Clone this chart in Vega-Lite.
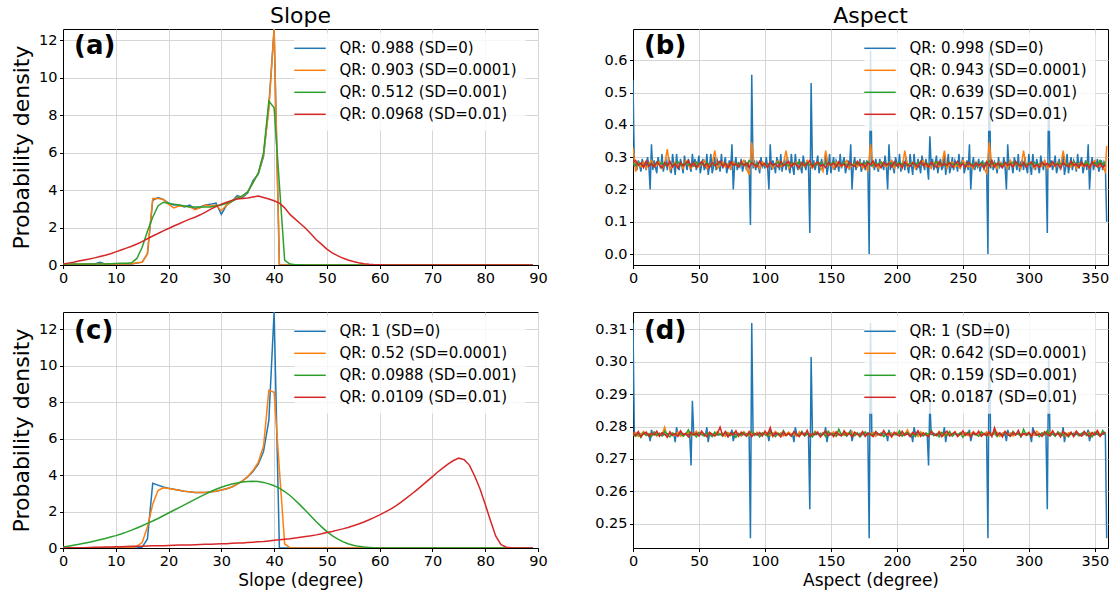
{
"$schema": "https://vega.github.io/schema/vega-lite/v6.json",
"padding": {"left": 10, "top": 4, "right": 2, "bottom": 2},
"background": "white",
"columns": 2,
"spacing": {"row": 47, "column": 95},
"bounds": "flush",
"resolve": {"scale": {"color": "independent", "x": "independent", "y": "independent"}, "legend": {"color": "independent"}},
"datasets": {
"slope": [
{"x":0,"a1":0.02,"a2":0.02,"a3":0.05,"a4":0.05,"c1":0,"c2":0,"c3":0.05,"c4":0},
{"x":1,"a1":0.02,"a2":0.03,"a3":0.05,"a4":0.1,"c1":0,"c2":0,"c3":0.1,"c4":0.01},
{"x":2,"a1":0.03,"a2":0.04,"a3":0.05,"a4":0.15,"c1":0,"c2":0,"c3":0.15,"c4":0.01},
{"x":3,"a1":0.02,"a2":0.04,"a3":0.05,"a4":0.21,"c1":0,"c2":0,"c3":0.2,"c4":0.02},
{"x":4,"a1":0.03,"a2":0.05,"a3":0.05,"a4":0.27,"c1":0,"c2":0,"c3":0.26,"c4":0.02},
{"x":5,"a1":0.05,"a2":0.04,"a3":0.05,"a4":0.32,"c1":0,"c2":0,"c3":0.32,"c4":0.03},
{"x":6,"a1":0.05,"a2":0.05,"a3":0.05,"a4":0.38,"c1":0,"c2":0,"c3":0.38,"c4":0.04},
{"x":7,"a1":0.15,"a2":0.08,"a3":0.06,"a4":0.45,"c1":0,"c2":0,"c3":0.45,"c4":0.04},
{"x":8,"a1":0.05,"a2":0.06,"a3":0.06,"a4":0.52,"c1":0,"c2":0,"c3":0.52,"c4":0.05},
{"x":9,"a1":0.05,"a2":0.05,"a3":0.07,"a4":0.6,"c1":0,"c2":0,"c3":0.6,"c4":0.06},
{"x":10,"a1":0.05,"a2":0.06,"a3":0.08,"a4":0.7,"c1":0,"c2":0,"c3":0.68,"c4":0.07},
{"x":11,"a1":0.06,"a2":0.06,"a3":0.09,"a4":0.8,"c1":0,"c2":0,"c3":0.77,"c4":0.07},
{"x":12,"a1":0.06,"a2":0.06,"a3":0.1,"a4":0.9,"c1":0,"c2":0,"c3":0.87,"c4":0.08},
{"x":13,"a1":0.06,"a2":0.07,"a3":0.12,"a4":1.0,"c1":0,"c2":0.03,"c3":0.98,"c4":0.09},
{"x":14,"a1":0.1,"a2":0.12,"a3":0.35,"a4":1.12,"c1":0,"c2":0.1,"c3":1.1,"c4":0.09},
{"x":15,"a1":0.15,"a2":0.15,"a3":0.95,"a4":1.25,"c1":0.05,"c2":0.3,"c3":1.22,"c4":0.1},
{"x":16,"a1":0.6,"a2":0.6,"a3":1.8,"a4":1.4,"c1":0.5,"c2":1.15,"c3":1.35,"c4":0.11},
{"x":17,"a1":3.45,"a2":3.55,"a3":2.55,"a4":1.55,"c1":3.55,"c2":2.4,"c3":1.48,"c4":0.12},
{"x":18,"a1":3.6,"a2":3.55,"a3":3.15,"a4":1.68,"c1":3.45,"c2":3.15,"c3":1.62,"c4":0.13},
{"x":19,"a1":3.5,"a2":3.5,"a3":3.35,"a4":1.82,"c1":3.35,"c2":3.3,"c3":1.77,"c4":0.13},
{"x":20,"a1":3.3,"a2":3.25,"a3":3.3,"a4":1.95,"c1":3.28,"c2":3.27,"c3":1.92,"c4":0.14},
{"x":21,"a1":3.2,"a2":3.05,"a3":3.25,"a4":2.08,"c1":3.22,"c2":3.22,"c3":2.07,"c4":0.15},
{"x":22,"a1":3.2,"a2":3.15,"a3":3.2,"a4":2.2,"c1":3.17,"c2":3.17,"c3":2.22,"c4":0.16},
{"x":23,"a1":3.1,"a2":3.15,"a3":3.15,"a4":2.33,"c1":3.12,"c2":3.12,"c3":2.37,"c4":0.17},
{"x":24,"a1":3.2,"a2":3.1,"a3":3.1,"a4":2.45,"c1":3.08,"c2":3.08,"c3":2.52,"c4":0.17},
{"x":25,"a1":3.0,"a2":2.95,"a3":3.1,"a4":2.55,"c1":3.05,"c2":3.05,"c3":2.67,"c4":0.18},
{"x":26,"a1":3.1,"a2":3.05,"a3":3.1,"a4":2.68,"c1":3.05,"c2":3.04,"c3":2.82,"c4":0.19},
{"x":27,"a1":3.2,"a2":3.2,"a3":3.1,"a4":2.82,"c1":3.05,"c2":3.05,"c3":2.96,"c4":0.2},
{"x":28,"a1":3.25,"a2":3.15,"a3":3.1,"a4":2.98,"c1":3.08,"c2":3.08,"c3":3.1,"c4":0.21},
{"x":29,"a1":3.3,"a2":3.2,"a3":3.15,"a4":3.12,"c1":3.12,"c2":3.12,"c3":3.22,"c4":0.22},
{"x":30,"a1":2.7,"a2":2.9,"a3":3.2,"a4":3.25,"c1":3.18,"c2":3.18,"c3":3.33,"c4":0.23},
{"x":31,"a1":3.2,"a2":3.2,"a3":3.3,"a4":3.35,"c1":3.25,"c2":3.25,"c3":3.43,"c4":0.24},
{"x":32,"a1":3.4,"a2":3.4,"a3":3.4,"a4":3.45,"c1":3.35,"c2":3.35,"c3":3.51,"c4":0.26},
{"x":33,"a1":3.7,"a2":3.6,"a3":3.55,"a4":3.52,"c1":3.5,"c2":3.5,"c3":3.57,"c4":0.27},
{"x":34,"a1":3.6,"a2":3.65,"a3":3.7,"a4":3.55,"c1":3.68,"c2":3.68,"c3":3.62,"c4":0.28},
{"x":35,"a1":3.85,"a2":3.9,"a3":3.9,"a4":3.58,"c1":3.9,"c2":3.92,"c3":3.65,"c4":0.3},
{"x":36,"a1":4.5,"a2":4.4,"a3":4.4,"a4":3.63,"c1":4.2,"c2":4.25,"c3":3.66,"c4":0.32},
{"x":37,"a1":4.85,"a2":4.9,"a3":4.9,"a4":3.68,"c1":4.6,"c2":4.7,"c3":3.65,"c4":0.34},
{"x":38,"a1":5.8,"a2":5.9,"a3":6.0,"a4":3.6,"c1":5.3,"c2":5.6,"c3":3.6,"c4":0.36},
{"x":39,"a1":8.5,"a2":8.3,"a3":8.75,"a4":3.52,"c1":7.0,"c2":8.65,"c3":3.52,"c4":0.39},
{"x":40,"a1":13.5,"a2":13.0,"a3":8.4,"a4":3.43,"c1":13.5,"c2":8.55,"c3":3.42,"c4":0.42},
{"x":41,"a1":0,"a2":0,"a3":4.3,"a4":3.3,"c1":0,"c2":4.3,"c3":3.28,"c4":0.45},
{"x":42,"a1":0,"a2":0,"a3":0.25,"a4":3.05,"c1":0,"c2":0.22,"c3":3.1,"c4":0.48},
{"x":43,"a1":0,"a2":0,"a3":0.05,"a4":2.7,"c1":0,"c2":0.02,"c3":2.88,"c4":0.51},
{"x":44,"a1":0,"a2":0,"a3":0.02,"a4":2.45,"c1":0,"c2":0,"c3":2.62,"c4":0.55},
{"x":45,"a1":0,"a2":0,"a3":0.01,"a4":2.2,"c1":0,"c2":0,"c3":2.34,"c4":0.59},
{"x":46,"a1":0,"a2":0,"a3":0,"a4":1.95,"c1":0,"c2":0,"c3":2.04,"c4":0.63},
{"x":47,"a1":0,"a2":0,"a3":0,"a4":1.65,"c1":0,"c2":0,"c3":1.74,"c4":0.67},
{"x":48,"a1":0,"a2":0,"a3":0,"a4":1.35,"c1":0,"c2":0,"c3":1.44,"c4":0.72},
{"x":49,"a1":0,"a2":0,"a3":0,"a4":1.1,"c1":0,"c2":0,"c3":1.16,"c4":0.78},
{"x":50,"a1":0,"a2":0,"a3":0,"a4":0.85,"c1":0,"c2":0,"c3":0.9,"c4":0.85},
{"x":51,"a1":0,"a2":0,"a3":0,"a4":0.65,"c1":0,"c2":0,"c3":0.68,"c4":0.91},
{"x":52,"a1":0,"a2":0,"a3":0,"a4":0.5,"c1":0,"c2":0,"c3":0.5,"c4":0.98},
{"x":53,"a1":0,"a2":0,"a3":0,"a4":0.37,"c1":0,"c2":0,"c3":0.35,"c4":1.05},
{"x":54,"a1":0,"a2":0,"a3":0,"a4":0.27,"c1":0,"c2":0,"c3":0.23,"c4":1.13},
{"x":55,"a1":0,"a2":0,"a3":0,"a4":0.19,"c1":0,"c2":0,"c3":0.15,"c4":1.22},
{"x":56,"a1":0,"a2":0,"a3":0,"a4":0.12,"c1":0,"c2":0,"c3":0.09,"c4":1.32},
{"x":57,"a1":0,"a2":0,"a3":0,"a4":0.07,"c1":0,"c2":0,"c3":0.05,"c4":1.43},
{"x":58,"a1":0,"a2":0,"a3":0,"a4":0.04,"c1":0,"c2":0,"c3":0.03,"c4":1.55},
{"x":59,"a1":0,"a2":0,"a3":0,"a4":0.02,"c1":0,"c2":0,"c3":0.01,"c4":1.68},
{"x":60,"a1":0,"a2":0,"a3":0,"a4":0.01,"c1":0,"c2":0,"c3":0,"c4":1.82},
{"x":61,"a1":0,"a2":0,"a3":0,"a4":0,"c1":0,"c2":0,"c3":0,"c4":1.97},
{"x":62,"a1":0,"a2":0,"a3":0,"a4":0,"c1":0,"c2":0,"c3":0,"c4":2.12},
{"x":63,"a1":0,"a2":0,"a3":0,"a4":0,"c1":0,"c2":0,"c3":0,"c4":2.3},
{"x":64,"a1":0,"a2":0,"a3":0,"a4":0,"c1":0,"c2":0,"c3":0,"c4":2.5},
{"x":65,"a1":0,"a2":0,"a3":0,"a4":0,"c1":0,"c2":0,"c3":0,"c4":2.72},
{"x":66,"a1":0,"a2":0,"a3":0,"a4":0,"c1":0,"c2":0,"c3":0,"c4":2.95},
{"x":67,"a1":0,"a2":0,"a3":0,"a4":0,"c1":0,"c2":0,"c3":0,"c4":3.18},
{"x":68,"a1":0,"a2":0,"a3":0,"a4":0,"c1":0,"c2":0,"c3":0,"c4":3.42},
{"x":69,"a1":0,"a2":0,"a3":0,"a4":0,"c1":0,"c2":0,"c3":0,"c4":3.67},
{"x":70,"a1":0,"a2":0,"a3":0,"a4":0,"c1":0,"c2":0,"c3":0,"c4":3.92},
{"x":71,"a1":0,"a2":0,"a3":0,"a4":0,"c1":0,"c2":0,"c3":0,"c4":4.17},
{"x":72,"a1":0,"a2":0,"a3":0,"a4":0,"c1":0,"c2":0,"c3":0,"c4":4.4},
{"x":73,"a1":0,"a2":0,"a3":0,"a4":0,"c1":0,"c2":0,"c3":0,"c4":4.62},
{"x":74,"a1":0,"a2":0,"a3":0,"a4":0,"c1":0,"c2":0,"c3":0,"c4":4.8},
{"x":75,"a1":0,"a2":0,"a3":0,"a4":0,"c1":0,"c2":0,"c3":0,"c4":4.93},
{"x":76,"a1":0,"a2":0,"a3":0,"a4":0,"c1":0,"c2":0,"c3":0,"c4":4.85},
{"x":77,"a1":0,"a2":0,"a3":0,"a4":0,"c1":0,"c2":0,"c3":0,"c4":4.55},
{"x":78,"a1":0,"a2":0,"a3":0,"a4":0,"c1":0,"c2":0,"c3":0,"c4":3.95},
{"x":79,"a1":0,"a2":0,"a3":0,"a4":0,"c1":0,"c2":0,"c3":0,"c4":3.25},
{"x":80,"a1":0,"a2":0,"a3":0,"a4":0,"c1":0,"c2":0,"c3":0,"c4":2.4},
{"x":81,"a1":0,"a2":0,"a3":0,"a4":0,"c1":0,"c2":0,"c3":0,"c4":1.5},
{"x":82,"a1":0,"a2":0,"a3":0,"a4":0,"c1":0,"c2":0,"c3":0,"c4":0.65},
{"x":83,"a1":0,"a2":0,"a3":0,"a4":0,"c1":0,"c2":0,"c3":0,"c4":0.18},
{"x":84,"a1":0,"a2":0,"a3":0,"a4":0,"c1":0,"c2":0,"c3":0,"c4":0.04},
{"x":85,"a1":0,"a2":0,"a3":0,"a4":0,"c1":0,"c2":0,"c3":0,"c4":0.01},
{"x":86,"a1":0,"a2":0,"a3":0,"a4":0,"c1":0,"c2":0,"c3":0,"c4":0},
{"x":87,"a1":0,"a2":0,"a3":0,"a4":0,"c1":0,"c2":0,"c3":0,"c4":0},
{"x":88,"a1":0,"a2":0,"a3":0,"a4":0,"c1":0,"c2":0,"c3":0,"c4":0},
{"x":89,"a1":0,"a2":0,"a3":0,"a4":0,"c1":0,"c2":0,"c3":0,"c4":0}
],
"asp": [
{"x":0,"bb":0.54,"db":0.312,"bo":0.33,"bg":0.28,"br":0.285,"do":0.2778,"dg":0.2775,"dr":0.278},
{"x":1,"bb":0.27,"db":0.2775},
{"x":2,"bb":0.285,"db":0.2778,"bo":0.255,"bg":0.275,"br":0.29,"do":0.2782,"dg":0.277,"dr":0.2772},
{"x":3,"bb":0.26,"db":0.2776},
{"x":4,"bb":0.29,"db":0.2779,"bo":0.28,"bg":0.285,"br":0.275,"do":0.277,"dg":0.2779,"dr":0.2785},
{"x":5,"bb":0.275,"db":0.2774},
{"x":6,"bb":0.255,"db":0.2777,"bo":0.27,"bg":0.278,"br":0.282,"do":0.2776,"dg":0.2766,"dr":0.2769},
{"x":7,"bb":0.295,"db":0.2775},
{"x":8,"bb":0.27,"db":0.2778,"bo":0.285,"bg":0.272,"br":0.268,"do":0.2785,"dg":0.2781,"dr":0.2778},
{"x":9,"bb":0.28,"db":0.2776},
{"x":10,"bb":0.26,"db":0.2779,"bo":0.265,"bg":0.283,"br":0.288,"do":0.2772,"dg":0.2773,"dr":0.2783},
{"x":11,"bb":0.30,"db":0.2774},
{"x":12,"bb":0.275,"db":0.2777,"bo":0.28,"bg":0.276,"br":0.272,"do":0.2779,"dg":0.2777,"dr":0.2771},
{"x":13,"bb":0.20,"db":0.2755},
{"x":14,"bb":0.34,"db":0.279,"bo":0.29,"bg":0.28,"br":0.28,"do":0.2774,"dg":0.2769,"dr":0.2779},
{"x":15,"bb":0.26,"db":0.2776},
{"x":16,"bb":0.29,"db":0.2779,"bo":0.27,"bg":0.274,"br":0.27,"do":0.2783,"dg":0.2783,"dr":0.2774},
{"x":17,"bb":0.27,"db":0.2774},
{"x":18,"bb":0.25,"db":0.2777,"bo":0.275,"bg":0.282,"br":0.285,"do":0.2771,"dg":0.2774,"dr":0.2786},
{"x":19,"bb":0.30,"db":0.2775},
{"x":20,"bb":0.28,"db":0.2778,"bo":0.285,"bg":0.277,"br":0.276,"do":0.278,"dg":0.2778,"dr":0.277},
{"x":21,"bb":0.265,"db":0.2776},
{"x":22,"bb":0.31,"db":0.2779,"bo":0.265,"bg":0.285,"br":0.268,"do":0.2775,"dg":0.2771,"dr":0.2781},
{"x":23,"bb":0.255,"db":0.2774},
{"x":24,"bb":0.28,"db":0.2777,"bo":0.28,"bg":0.273,"br":0.283,"do":0.2798,"dg":0.2786,"dr":0.2776},
{"x":25,"bb":0.29,"db":0.2775},
{"x":26,"bb":0.26,"db":0.2778,"bo":0.325,"bg":0.279,"br":0.272,"do":0.2768,"dg":0.2775,"dr":0.2767},
{"x":27,"bb":0.30,"db":0.2776},
{"x":28,"bb":0.27,"db":0.2779,"bo":0.26,"bg":0.282,"br":0.287,"do":0.2781,"dg":0.2768,"dr":0.2784},
{"x":29,"bb":0.25,"db":0.2774},
{"x":30,"bb":0.31,"db":0.2777,"bo":0.275,"bg":0.275,"br":0.27,"do":0.2776,"dg":0.278,"dr":0.2773},
{"x":31,"bb":0.275,"db":0.2775},
{"x":32,"bb":0.245,"db":0.2752,"bo":0.285,"bg":0.28,"br":0.279,"do":0.2773,"dg":0.2776,"dr":0.2779},
{"x":33,"bb":0.31,"db":0.2798},
{"x":34,"bb":0.27,"db":0.2779,"bo":0.27,"bg":0.286,"br":0.266,"do":0.2784,"dg":0.2772,"dr":0.277},
{"x":35,"bb":0.26,"db":0.2774},
{"x":36,"bb":0.295,"db":0.2777,"bo":0.28,"bg":0.274,"br":0.284,"do":0.277,"dg":0.2784,"dr":0.2787},
{"x":37,"bb":0.275,"db":0.2775},
{"x":38,"bb":0.25,"db":0.2778,"bo":0.265,"bg":0.278,"br":0.273,"do":0.2779,"dg":0.277,"dr":0.2775},
{"x":39,"bb":0.305,"db":0.2776},
{"x":40,"bb":0.28,"db":0.2779,"bo":0.29,"bg":0.283,"br":0.28,"do":0.2775,"dg":0.2777,"dr":0.2778},
{"x":41,"bb":0.26,"db":0.2774},
{"x":42,"bb":0.295,"db":0.2777,"bo":0.275,"bg":0.276,"br":0.29,"do":0.2782,"dg":0.279,"dr":0.2768},
{"x":43,"bb":0.27,"db":0.2775},
{"x":44,"bb":0.255,"db":0.268,"bo":0.265,"bg":0.279,"br":0.271,"do":0.2771,"dg":0.2773,"dr":0.2783},
{"x":45,"bb":0.31,"db":0.288},
{"x":46,"bb":0.27,"db":0.2779,"bo":0.28,"bg":0.272,"br":0.282,"do":0.2778,"dg":0.2779,"dr":0.2774},
{"x":47,"bb":0.295,"db":0.2774},
{"x":48,"bb":0.26,"db":0.2777,"bo":0.285,"bg":0.284,"br":0.268,"do":0.2786,"dg":0.2768,"dr":0.278},
{"x":49,"bb":0.28,"db":0.2775},
{"x":50,"bb":0.305,"db":0.2778,"bo":0.27,"bg":0.277,"br":0.278,"do":0.2773,"dg":0.2782,"dr":0.2771},
{"x":51,"bb":0.25,"db":0.2776},
{"x":52,"bb":0.275,"db":0.2779,"bo":0.28,"bg":0.28,"br":0.286,"do":0.278,"dg":0.2775,"dr":0.2786},
{"x":53,"bb":0.295,"db":0.2774},
{"x":54,"bb":0.26,"db":0.2777,"bo":0.29,"bg":0.275,"br":0.272,"do":0.2776,"dg":0.2771,"dr":0.2776},
{"x":55,"bb":0.27,"db":0.2775},
{"x":56,"bb":0.31,"db":0.2798,"bo":0.265,"bg":0.283,"br":0.28,"do":0.2769,"dg":0.278,"dr":0.2769},
{"x":57,"bb":0.245,"db":0.2752},
{"x":58,"bb":0.275,"db":0.2779,"bo":0.275,"bg":0.278,"br":0.267,"do":0.2783,"dg":0.2776,"dr":0.2782},
{"x":59,"bb":0.31,"db":0.2774},
{"x":60,"bb":0.25,"db":0.2777,"bo":0.28,"bg":0.274,"br":0.284,"do":0.2777,"dg":0.2769,"dr":0.2775},
{"x":61,"bb":0.27,"db":0.2775},
{"x":62,"bb":0.30,"db":0.2778,"bo":0.32,"bg":0.281,"br":0.274,"do":0.2772,"dg":0.2783,"dr":0.2771},
{"x":63,"bb":0.26,"db":0.2776},
{"x":64,"bb":0.29,"db":0.2779,"bo":0.265,"bg":0.277,"br":0.279,"do":0.2785,"dg":0.2774,"dr":0.2779},
{"x":65,"bb":0.28,"db":0.2774},
{"x":66,"bb":0.255,"db":0.2777,"bo":0.275,"bg":0.285,"br":0.288,"do":0.2775,"dg":0.2778,"dr":0.2798},
{"x":67,"bb":0.31,"db":0.2775},
{"x":68,"bb":0.265,"db":0.2778,"bo":0.285,"bg":0.276,"br":0.27,"do":0.2779,"dg":0.277,"dr":0.2772},
{"x":69,"bb":0.28,"db":0.2776},
{"x":70,"bb":0.30,"db":0.2779,"bo":0.27,"bg":0.279,"br":0.281,"do":0.277,"dg":0.2785,"dr":0.2784},
{"x":71,"bb":0.25,"db":0.2774},
{"x":72,"bb":0.27,"db":0.2777,"bo":0.28,"bg":0.273,"br":0.267,"do":0.2782,"dg":0.2776,"dr":0.2768},
{"x":73,"bb":0.29,"db":0.2775},
{"x":74,"bb":0.26,"db":0.2778,"bo":0.265,"bg":0.282,"br":0.285,"do":0.2776,"dg":0.2772,"dr":0.278},
{"x":75,"bb":0.34,"db":0.279},
{"x":76,"bb":0.20,"db":0.2755,"bo":0.285,"bg":0.278,"br":0.275,"do":0.2774,"dg":0.2781,"dr":0.2775},
{"x":77,"bb":0.275,"db":0.2774},
{"x":78,"bb":0.30,"db":0.2777,"bo":0.275,"bg":0.275,"br":0.28,"do":0.2781,"dg":0.2767,"dr":0.2787},
{"x":79,"bb":0.26,"db":0.2775},
{"x":80,"bb":0.28,"db":0.2778,"bo":0.27,"bg":0.283,"br":0.27,"do":0.2778,"dg":0.2779,"dr":0.277},
{"x":81,"bb":0.27,"db":0.2776},
{"x":82,"bb":0.295,"db":0.2779,"bo":0.28,"bg":0.277,"br":0.286,"do":0.2771,"dg":0.2774,"dr":0.2783},
{"x":83,"bb":0.255,"db":0.2774},
{"x":84,"bb":0.275,"db":0.2777,"bo":0.29,"bg":0.28,"br":0.273,"do":0.2784,"dg":0.2782,"dr":0.2776},
{"x":85,"bb":0.29,"db":0.2775},
{"x":86,"bb":0.26,"db":0.2778,"bo":0.265,"bg":0.274,"br":0.281,"do":0.2776,"dg":0.277,"dr":0.2772},
{"x":87,"bb":0.285,"db":0.2776},
{"x":88,"bb":0.27,"db":0.2779,"bo":0.245,"bg":0.29,"br":0.268,"do":0.2773,"dg":0.2777,"dr":0.2785},
{"x":89,"bb":0.09,"db":0.2455},
{"x":90,"bb":0.555,"db":0.312,"bo":0.345,"bg":0.282,"br":0.283,"do":0.278,"dg":0.2786,"dr":0.2769},
{"x":91,"bb":0.265,"db":0.2775},
{"x":92,"bb":0.29,"db":0.2778,"bo":0.27,"bg":0.276,"br":0.276,"do":0.2775,"dg":0.2773,"dr":0.2779},
{"x":93,"bb":0.26,"db":0.2776},
{"x":94,"bb":0.285,"db":0.2779,"bo":0.28,"bg":0.279,"br":0.27,"do":0.2783,"dg":0.2779,"dr":0.2774},
{"x":95,"bb":0.275,"db":0.2774},
{"x":96,"bb":0.25,"db":0.2777,"bo":0.265,"bg":0.284,"br":0.288,"do":0.277,"dg":0.2768,"dr":0.2782},
{"x":97,"bb":0.30,"db":0.2775},
{"x":98,"bb":0.27,"db":0.2778,"bo":0.285,"bg":0.275,"br":0.274,"do":0.2779,"dg":0.2781,"dr":0.2771},
{"x":99,"bb":0.28,"db":0.2776},
{"x":100,"bb":0.265,"db":0.2779,"bo":0.275,"bg":0.28,"br":0.281,"do":0.2776,"dg":0.2775,"dr":0.2786},
{"x":101,"bb":0.30,"db":0.2774},
{"x":102,"bb":0.27,"db":0.2777,"bo":0.27,"bg":0.277,"br":0.267,"do":0.2782,"dg":0.2771,"dr":0.2775},
{"x":103,"bb":0.20,"db":0.2755},
{"x":104,"bb":0.34,"db":0.279,"bo":0.285,"bg":0.283,"br":0.285,"do":0.2772,"dg":0.2784,"dr":0.2797},
{"x":105,"bb":0.26,"db":0.2776},
{"x":106,"bb":0.29,"db":0.2779,"bo":0.265,"bg":0.274,"br":0.275,"do":0.2778,"dg":0.2776,"dr":0.277},
{"x":107,"bb":0.275,"db":0.2774},
{"x":108,"bb":0.25,"db":0.2777,"bo":0.28,"bg":0.279,"br":0.279,"do":0.2785,"dg":0.2769,"dr":0.2781},
{"x":109,"bb":0.30,"db":0.2775},
{"x":110,"bb":0.28,"db":0.2778,"bo":0.29,"bg":0.285,"br":0.269,"do":0.2774,"dg":0.278,"dr":0.2777},
{"x":111,"bb":0.26,"db":0.2776},
{"x":112,"bb":0.31,"db":0.2779,"bo":0.27,"bg":0.276,"br":0.286,"do":0.278,"dg":0.2774,"dr":0.2768},
{"x":113,"bb":0.255,"db":0.2774},
{"x":114,"bb":0.285,"db":0.2777,"bo":0.28,"bg":0.281,"br":0.273,"do":0.2771,"dg":0.2788,"dr":0.2784},
{"x":115,"bb":0.29,"db":0.2775},
{"x":116,"bb":0.26,"db":0.2778,"bo":0.32,"bg":0.278,"br":0.28,"do":0.2777,"dg":0.2772,"dr":0.2773},
{"x":117,"bb":0.30,"db":0.2776},
{"x":118,"bb":0.27,"db":0.2779,"bo":0.265,"bg":0.273,"br":0.287,"do":0.2783,"dg":0.2778,"dr":0.2779},
{"x":119,"bb":0.25,"db":0.2774},
{"x":120,"bb":0.31,"db":0.2777,"bo":0.28,"bg":0.282,"br":0.271,"do":0.2775,"dg":0.277,"dr":0.2771},
{"x":121,"bb":0.27,"db":0.2775},
{"x":122,"bb":0.245,"db":0.2752,"bo":0.275,"bg":0.277,"br":0.282,"do":0.2779,"dg":0.2782,"dr":0.2785},
{"x":123,"bb":0.31,"db":0.2798},
{"x":124,"bb":0.275,"db":0.2779,"bo":0.285,"bg":0.28,"br":0.276,"do":0.277,"dg":0.2776,"dr":0.2776},
{"x":125,"bb":0.26,"db":0.2774},
{"x":126,"bb":0.295,"db":0.2777,"bo":0.265,"bg":0.286,"br":0.268,"do":0.2784,"dg":0.2773,"dr":0.2769},
{"x":127,"bb":0.27,"db":0.2775},
{"x":128,"bb":0.25,"db":0.2778,"bo":0.28,"bg":0.275,"br":0.284,"do":0.2776,"dg":0.2785,"dr":0.2782},
{"x":129,"bb":0.305,"db":0.2776},
{"x":130,"bb":0.28,"db":0.2779,"bo":0.27,"bg":0.279,"br":0.274,"do":0.2773,"dg":0.2771,"dr":0.2774},
{"x":131,"bb":0.26,"db":0.2774},
{"x":132,"bb":0.29,"db":0.2777,"bo":0.29,"bg":0.283,"br":0.28,"do":0.2781,"dg":0.2779,"dr":0.2788},
{"x":133,"bb":0.27,"db":0.2775},
{"x":134,"bb":0.065,"db":0.2545,"bo":0.275,"bg":0.276,"br":0.29,"do":0.2777,"dg":0.2775,"dr":0.277},
{"x":135,"bb":0.53,"db":0.3015},
{"x":136,"bb":0.27,"db":0.2779,"bo":0.265,"bg":0.28,"br":0.27,"do":0.2772,"dg":0.2768,"dr":0.2779},
{"x":137,"bb":0.29,"db":0.2774},
{"x":138,"bb":0.26,"db":0.2777,"bo":0.28,"bg":0.274,"br":0.279,"do":0.2786,"dg":0.2783,"dr":0.2775},
{"x":139,"bb":0.28,"db":0.2775},
{"x":140,"bb":0.305,"db":0.2778,"bo":0.285,"bg":0.278,"br":0.285,"do":0.2778,"dg":0.2777,"dr":0.2783},
{"x":141,"bb":0.25,"db":0.2776},
{"x":142,"bb":0.27,"db":0.2779,"bo":0.27,"bg":0.284,"br":0.272,"do":0.2774,"dg":0.2772,"dr":0.2768},
{"x":143,"bb":0.295,"db":0.2774},
{"x":144,"bb":0.26,"db":0.2777,"bo":0.255,"bg":0.276,"br":0.277,"do":0.2782,"dg":0.278,"dr":0.2777},
{"x":145,"bb":0.275,"db":0.2775},
{"x":146,"bb":0.31,"db":0.2798,"bo":0.32,"bg":0.281,"br":0.268,"do":0.2771,"dg":0.2769,"dr":0.2786},
{"x":147,"bb":0.245,"db":0.2752},
{"x":148,"bb":0.27,"db":0.2779,"bo":0.275,"bg":0.277,"br":0.283,"do":0.2779,"dg":0.2786,"dr":0.2772},
{"x":149,"bb":0.31,"db":0.2774},
{"x":150,"bb":0.25,"db":0.2777,"bo":0.28,"bg":0.279,"br":0.275,"do":0.2775,"dg":0.2775,"dr":0.278},
{"x":151,"bb":0.275,"db":0.2775},
{"x":152,"bb":0.30,"db":0.2778,"bo":0.265,"bg":0.285,"br":0.281,"do":0.2784,"dg":0.2778,"dr":0.2769},
{"x":153,"bb":0.26,"db":0.2776},
{"x":154,"bb":0.29,"db":0.2779,"bo":0.285,"bg":0.274,"br":0.27,"do":0.277,"dg":0.2771,"dr":0.2784},
{"x":155,"bb":0.28,"db":0.2774},
{"x":156,"bb":0.255,"db":0.2777,"bo":0.275,"bg":0.28,"br":0.286,"do":0.278,"dg":0.2792,"dr":0.2775},
{"x":157,"bb":0.31,"db":0.2775},
{"x":158,"bb":0.265,"db":0.2778,"bo":0.27,"bg":0.277,"br":0.273,"do":0.2776,"dg":0.2774,"dr":0.2771},
{"x":159,"bb":0.285,"db":0.2776},
{"x":160,"bb":0.30,"db":0.2779,"bo":0.28,"bg":0.283,"br":0.279,"do":0.2773,"dg":0.2779,"dr":0.2787},
{"x":161,"bb":0.25,"db":0.2774},
{"x":162,"bb":0.27,"db":0.2777,"bo":0.29,"bg":0.276,"br":0.268,"do":0.2781,"dg":0.277,"dr":0.2774},
{"x":163,"bb":0.29,"db":0.2775},
{"x":164,"bb":0.26,"db":0.2778,"bo":0.265,"bg":0.279,"br":0.284,"do":0.2777,"dg":0.2783,"dr":0.2779},
{"x":165,"bb":0.34,"db":0.279},
{"x":166,"bb":0.20,"db":0.2755,"bo":0.275,"bg":0.275,"br":0.276,"do":0.2785,"dg":0.2776,"dr":0.2768},
{"x":167,"bb":0.275,"db":0.2774},
{"x":168,"bb":0.30,"db":0.2777,"bo":0.28,"bg":0.282,"br":0.271,"do":0.2772,"dg":0.2772,"dr":0.2783},
{"x":169,"bb":0.26,"db":0.2775},
{"x":170,"bb":0.28,"db":0.2778,"bo":0.27,"bg":0.278,"br":0.287,"do":0.2778,"dg":0.2781,"dr":0.2776},
{"x":171,"bb":0.275,"db":0.2776},
{"x":172,"bb":0.295,"db":0.2779,"bo":0.285,"bg":0.284,"br":0.274,"do":0.2775,"dg":0.2768,"dr":0.2771},
{"x":173,"bb":0.255,"db":0.2774},
{"x":174,"bb":0.27,"db":0.2777,"bo":0.265,"bg":0.276,"br":0.28,"do":0.2783,"dg":0.2777,"dr":0.2785},
{"x":175,"bb":0.29,"db":0.2775},
{"x":176,"bb":0.26,"db":0.2778,"bo":0.28,"bg":0.28,"br":0.269,"do":0.2771,"dg":0.2784,"dr":0.277},
{"x":177,"bb":0.285,"db":0.2776},
{"x":178,"bb":0.275,"db":0.2779,"bo":0.255,"bg":0.287,"br":0.283,"do":0.2779,"dg":0.2773,"dr":0.278},
{"x":179,"bb":0.0,"db":0.2455},
{"x":180,"bb":0.63,"db":0.312,"bo":0.34,"bg":0.279,"br":0.276,"do":0.2776,"dg":0.2778,"dr":0.2775},
{"x":181,"bb":0.27,"db":0.2775},
{"x":182,"bb":0.285,"db":0.2778,"bo":0.27,"bg":0.274,"br":0.288,"do":0.2782,"dg":0.2771,"dr":0.2769},
{"x":183,"bb":0.26,"db":0.2776},
{"x":184,"bb":0.295,"db":0.2779,"bo":0.28,"bg":0.282,"br":0.272,"do":0.277,"dg":0.2785,"dr":0.2784},
{"x":185,"bb":0.27,"db":0.2774},
{"x":186,"bb":0.255,"db":0.2777,"bo":0.265,"bg":0.277,"br":0.279,"do":0.2778,"dg":0.2775,"dr":0.2777},
{"x":187,"bb":0.295,"db":0.2775},
{"x":188,"bb":0.275,"db":0.2778,"bo":0.285,"bg":0.285,"br":0.267,"do":0.2774,"dg":0.278,"dr":0.2772},
{"x":189,"bb":0.28,"db":0.2776},
{"x":190,"bb":0.26,"db":0.2779,"bo":0.275,"bg":0.276,"br":0.284,"do":0.2786,"dg":0.2769,"dr":0.2788},
{"x":191,"bb":0.305,"db":0.2774},
{"x":192,"bb":0.275,"db":0.2777,"bo":0.27,"bg":0.28,"br":0.275,"do":0.2777,"dg":0.2776,"dr":0.2774},
{"x":193,"bb":0.20,"db":0.2755},
{"x":194,"bb":0.34,"db":0.279,"bo":0.28,"bg":0.278,"br":0.281,"do":0.2772,"dg":0.2783,"dr":0.278},
{"x":195,"bb":0.26,"db":0.2776},
{"x":196,"bb":0.29,"db":0.2779,"bo":0.29,"bg":0.283,"br":0.27,"do":0.278,"dg":0.2772,"dr":0.2768},
{"x":197,"bb":0.27,"db":0.2774},
{"x":198,"bb":0.25,"db":0.2777,"bo":0.265,"bg":0.275,"br":0.286,"do":0.2775,"dg":0.2779,"dr":0.2783},
{"x":199,"bb":0.30,"db":0.2775},
{"x":200,"bb":0.28,"db":0.2778,"bo":0.28,"bg":0.279,"br":0.273,"do":0.2783,"dg":0.2774,"dr":0.2776},
{"x":201,"bb":0.265,"db":0.2776},
{"x":202,"bb":0.31,"db":0.2779,"bo":0.275,"bg":0.284,"br":0.28,"do":0.2771,"dg":0.2787,"dr":0.2771},
{"x":203,"bb":0.255,"db":0.2774},
{"x":204,"bb":0.28,"db":0.2777,"bo":0.265,"bg":0.277,"br":0.268,"do":0.2779,"dg":0.277,"dr":0.2786},
{"x":205,"bb":0.29,"db":0.2775},
{"x":206,"bb":0.26,"db":0.2778,"bo":0.32,"bg":0.281,"br":0.285,"do":0.2776,"dg":0.2778,"dr":0.2773},
{"x":207,"bb":0.30,"db":0.2776},
{"x":208,"bb":0.27,"db":0.2779,"bo":0.27,"bg":0.274,"br":0.276,"do":0.279,"dg":0.2782,"dr":0.2779},
{"x":209,"bb":0.25,"db":0.2774},
{"x":210,"bb":0.31,"db":0.2777,"bo":0.28,"bg":0.282,"br":0.271,"do":0.2773,"dg":0.2773,"dr":0.2769},
{"x":211,"bb":0.275,"db":0.2775},
{"x":212,"bb":0.245,"db":0.2752,"bo":0.285,"bg":0.278,"br":0.283,"do":0.2781,"dg":0.2776,"dr":0.2782},
{"x":213,"bb":0.31,"db":0.2798},
{"x":214,"bb":0.27,"db":0.2779,"bo":0.265,"bg":0.276,"br":0.278,"do":0.2777,"dg":0.2769,"dr":0.2775},
{"x":215,"bb":0.26,"db":0.2774},
{"x":216,"bb":0.295,"db":0.2777,"bo":0.275,"bg":0.285,"br":0.269,"do":0.277,"dg":0.2784,"dr":0.2787},
{"x":217,"bb":0.275,"db":0.2775},
{"x":218,"bb":0.25,"db":0.2778,"bo":0.28,"bg":0.279,"br":0.287,"do":0.2784,"dg":0.2777,"dr":0.277},
{"x":219,"bb":0.305,"db":0.2776},
{"x":220,"bb":0.28,"db":0.2779,"bo":0.29,"bg":0.276,"br":0.274,"do":0.2775,"dg":0.2771,"dr":0.2781},
{"x":221,"bb":0.26,"db":0.2774},
{"x":222,"bb":0.295,"db":0.2777,"bo":0.27,"bg":0.283,"br":0.281,"do":0.2779,"dg":0.278,"dr":0.2774},
{"x":223,"bb":0.27,"db":0.2775},
{"x":224,"bb":0.23,"db":0.268,"bo":0.275,"bg":0.278,"br":0.27,"do":0.2772,"dg":0.2775,"dr":0.2768},
{"x":225,"bb":0.365,"db":0.288},
{"x":226,"bb":0.27,"db":0.2776,"bo":0.265,"bg":0.28,"br":0.284,"do":0.2782,"dg":0.2789,"dr":0.2785},
{"x":227,"bb":0.295,"db":0.2775},
{"x":228,"bb":0.26,"db":0.2779,"bo":0.285,"bg":0.275,"br":0.277,"do":0.2776,"dg":0.2772,"dr":0.2777},
{"x":229,"bb":0.28,"db":0.2774},
{"x":230,"bb":0.305,"db":0.2777,"bo":0.28,"bg":0.286,"br":0.268,"do":0.2773,"dg":0.2778,"dr":0.2772},
{"x":231,"bb":0.25,"db":0.2775},
{"x":232,"bb":0.275,"db":0.2778,"bo":0.27,"bg":0.277,"br":0.286,"do":0.2785,"dg":0.2768,"dr":0.2783},
{"x":233,"bb":0.295,"db":0.2776},
{"x":234,"bb":0.26,"db":0.2779,"bo":0.275,"bg":0.281,"br":0.273,"do":0.2778,"dg":0.2782,"dr":0.2769},
{"x":235,"bb":0.27,"db":0.2774},
{"x":236,"bb":0.31,"db":0.2798,"bo":0.32,"bg":0.274,"br":0.28,"do":0.2771,"dg":0.2776,"dr":0.2779},
{"x":237,"bb":0.245,"db":0.2752},
{"x":238,"bb":0.275,"db":0.2778,"bo":0.265,"bg":0.279,"br":0.275,"do":0.278,"dg":0.2773,"dr":0.2786},
{"x":239,"bb":0.31,"db":0.2776},
{"x":240,"bb":0.25,"db":0.2777,"bo":0.28,"bg":0.284,"br":0.283,"do":0.2777,"dg":0.2785,"dr":0.2771},
{"x":241,"bb":0.27,"db":0.2775},
{"x":242,"bb":0.30,"db":0.2778,"bo":0.285,"bg":0.277,"br":0.269,"do":0.2774,"dg":0.277,"dr":0.2778},
{"x":243,"bb":0.26,"db":0.2776},
{"x":244,"bb":0.29,"db":0.2779,"bo":0.27,"bg":0.28,"br":0.278,"do":0.2783,"dg":0.2779,"dr":0.2784},
{"x":245,"bb":0.28,"db":0.2774},
{"x":246,"bb":0.255,"db":0.2777,"bo":0.275,"bg":0.276,"br":0.287,"do":0.277,"dg":0.2774,"dr":0.277},
{"x":247,"bb":0.31,"db":0.2775},
{"x":248,"bb":0.265,"db":0.2778,"bo":0.265,"bg":0.282,"br":0.272,"do":0.2779,"dg":0.2781,"dr":0.2776},
{"x":249,"bb":0.28,"db":0.2776},
{"x":250,"bb":0.30,"db":0.2779,"bo":0.29,"bg":0.278,"br":0.28,"do":0.2776,"dg":0.2767,"dr":0.2787},
{"x":251,"bb":0.25,"db":0.2774},
{"x":252,"bb":0.27,"db":0.2777,"bo":0.28,"bg":0.275,"br":0.268,"do":0.2782,"dg":0.2777,"dr":0.2773},
{"x":253,"bb":0.29,"db":0.2775},
{"x":254,"bb":0.26,"db":0.2778,"bo":0.27,"bg":0.283,"br":0.285,"do":0.2772,"dg":0.2783,"dr":0.278},
{"x":255,"bb":0.34,"db":0.279},
{"x":256,"bb":0.20,"db":0.2755,"bo":0.275,"bg":0.279,"br":0.276,"do":0.2778,"dg":0.2772,"dr":0.2768},
{"x":257,"bb":0.275,"db":0.2774},
{"x":258,"bb":0.30,"db":0.2777,"bo":0.265,"bg":0.277,"br":0.271,"do":0.2785,"dg":0.2778,"dr":0.2782},
{"x":259,"bb":0.26,"db":0.2775},
{"x":260,"bb":0.28,"db":0.2778,"bo":0.285,"bg":0.281,"br":0.282,"do":0.2775,"dg":0.2775,"dr":0.2775},
{"x":261,"bb":0.27,"db":0.2776},
{"x":262,"bb":0.295,"db":0.2779,"bo":0.27,"bg":0.275,"br":0.275,"do":0.278,"dg":0.277,"dr":0.2786},
{"x":263,"bb":0.255,"db":0.2774},
{"x":264,"bb":0.275,"db":0.2777,"bo":0.28,"bg":0.284,"br":0.279,"do":0.2771,"dg":0.2784,"dr":0.277},
{"x":265,"bb":0.29,"db":0.2775},
{"x":266,"bb":0.26,"db":0.2778,"bo":0.265,"bg":0.279,"br":0.267,"do":0.2777,"dg":0.2776,"dr":0.2779},
{"x":267,"bb":0.285,"db":0.2776},
{"x":268,"bb":0.27,"db":0.2779,"bo":0.25,"bg":0.276,"br":0.286,"do":0.2784,"dg":0.2771,"dr":0.2773},
{"x":269,"bb":0.0,"db":0.2455},
{"x":270,"bb":0.63,"db":0.312,"bo":0.345,"bg":0.288,"br":0.273,"do":0.2773,"dg":0.278,"dr":0.2784},
{"x":271,"bb":0.265,"db":0.2775},
{"x":272,"bb":0.29,"db":0.2778,"bo":0.27,"bg":0.278,"br":0.29,"do":0.2779,"dg":0.2774,"dr":0.2769},
{"x":273,"bb":0.26,"db":0.2776},
{"x":274,"bb":0.285,"db":0.2779,"bo":0.28,"bg":0.282,"br":0.27,"do":0.2776,"dg":0.2786,"dr":0.2796},
{"x":275,"bb":0.275,"db":0.2774},
{"x":276,"bb":0.25,"db":0.2777,"bo":0.265,"bg":0.275,"br":0.281,"do":0.2782,"dg":0.2769,"dr":0.2774},
{"x":277,"bb":0.30,"db":0.2775},
{"x":278,"bb":0.27,"db":0.2778,"bo":0.285,"bg":0.28,"br":0.276,"do":0.277,"dg":0.2779,"dr":0.2781},
{"x":279,"bb":0.28,"db":0.2776},
{"x":280,"bb":0.265,"db":0.2779,"bo":0.275,"bg":0.277,"br":0.268,"do":0.2778,"dg":0.2773,"dr":0.2768},
{"x":281,"bb":0.30,"db":0.2774},
{"x":282,"bb":0.27,"db":0.2777,"bo":0.28,"bg":0.283,"br":0.284,"do":0.2785,"dg":0.2782,"dr":0.2785},
{"x":283,"bb":0.20,"db":0.2755},
{"x":284,"bb":0.34,"db":0.279,"bo":0.265,"bg":0.279,"br":0.274,"do":0.2774,"dg":0.2776,"dr":0.2776},
{"x":285,"bb":0.26,"db":0.2776},
{"x":286,"bb":0.29,"db":0.2779,"bo":0.29,"bg":0.276,"br":0.28,"do":0.278,"dg":0.277,"dr":0.2771},
{"x":287,"bb":0.275,"db":0.2774},
{"x":288,"bb":0.25,"db":0.2777,"bo":0.27,"bg":0.285,"br":0.27,"do":0.2771,"dg":0.2785,"dr":0.2783},
{"x":289,"bb":0.30,"db":0.2775},
{"x":290,"bb":0.28,"db":0.2778,"bo":0.28,"bg":0.278,"br":0.287,"do":0.2777,"dg":0.2775,"dr":0.2774},
{"x":291,"bb":0.26,"db":0.2776},
{"x":292,"bb":0.31,"db":0.2779,"bo":0.275,"bg":0.28,"br":0.276,"do":0.2783,"dg":0.2779,"dr":0.2788},
{"x":293,"bb":0.255,"db":0.2774},
{"x":294,"bb":0.285,"db":0.2777,"bo":0.265,"bg":0.274,"br":0.272,"do":0.2775,"dg":0.2768,"dr":0.277},
{"x":295,"bb":0.29,"db":0.2775},
{"x":296,"bb":0.26,"db":0.2778,"bo":0.32,"bg":0.282,"br":0.283,"do":0.2779,"dg":0.2792,"dr":0.2779},
{"x":297,"bb":0.30,"db":0.2776},
{"x":298,"bb":0.27,"db":0.2779,"bo":0.27,"bg":0.277,"br":0.269,"do":0.2772,"dg":0.2774,"dr":0.2775},
{"x":299,"bb":0.25,"db":0.2774},
{"x":300,"bb":0.31,"db":0.2777,"bo":0.28,"bg":0.281,"br":0.279,"do":0.2782,"dg":0.2778,"dr":0.2782},
{"x":301,"bb":0.27,"db":0.2775},
{"x":302,"bb":0.245,"db":0.2752,"bo":0.285,"bg":0.276,"br":0.285,"do":0.2776,"dg":0.2771,"dr":0.2769},
{"x":303,"bb":0.31,"db":0.2798},
{"x":304,"bb":0.275,"db":0.2779,"bo":0.265,"bg":0.284,"br":0.271,"do":0.2773,"dg":0.2783,"dr":0.2786},
{"x":305,"bb":0.26,"db":0.2774},
{"x":306,"bb":0.295,"db":0.2777,"bo":0.275,"bg":0.279,"br":0.277,"do":0.2786,"dg":0.2776,"dr":0.2773},
{"x":307,"bb":0.27,"db":0.2775},
{"x":308,"bb":0.25,"db":0.2778,"bo":0.28,"bg":0.277,"br":0.268,"do":0.2778,"dg":0.2769,"dr":0.2778},
{"x":309,"bb":0.305,"db":0.2776},
{"x":310,"bb":0.28,"db":0.2779,"bo":0.27,"bg":0.282,"br":0.284,"do":0.2771,"dg":0.2781,"dr":0.277},
{"x":311,"bb":0.26,"db":0.2774},
{"x":312,"bb":0.29,"db":0.2777,"bo":0.29,"bg":0.275,"br":0.275,"do":0.278,"dg":0.2775,"dr":0.2784},
{"x":313,"bb":0.27,"db":0.2775},
{"x":314,"bb":0.065,"db":0.2545,"bo":0.265,"bg":0.28,"br":0.281,"do":0.2775,"dg":0.2787,"dr":0.2776},
{"x":315,"bb":0.53,"db":0.3015},
{"x":316,"bb":0.27,"db":0.2776,"bo":0.275,"bg":0.278,"br":0.27,"do":0.2784,"dg":0.2772,"dr":0.2771},
{"x":317,"bb":0.29,"db":0.2775},
{"x":318,"bb":0.26,"db":0.2779,"bo":0.28,"bg":0.285,"br":0.286,"do":0.2777,"dg":0.2778,"dr":0.2787},
{"x":319,"bb":0.28,"db":0.2774},
{"x":320,"bb":0.305,"db":0.2777,"bo":0.27,"bg":0.276,"br":0.273,"do":0.2772,"dg":0.277,"dr":0.2774},
{"x":321,"bb":0.25,"db":0.2775},
{"x":322,"bb":0.27,"db":0.2778,"bo":0.285,"bg":0.281,"br":0.279,"do":0.2779,"dg":0.2784,"dr":0.278},
{"x":323,"bb":0.295,"db":0.2776},
{"x":324,"bb":0.26,"db":0.2779,"bo":0.265,"bg":0.278,"br":0.267,"do":0.2776,"dg":0.2776,"dr":0.2768},
{"x":325,"bb":0.275,"db":0.2774},
{"x":326,"bb":0.31,"db":0.2798,"bo":0.32,"bg":0.283,"br":0.283,"do":0.2783,"dg":0.2773,"dr":0.2785},
{"x":327,"bb":0.245,"db":0.2752},
{"x":328,"bb":0.27,"db":0.2778,"bo":0.275,"bg":0.275,"br":0.276,"do":0.277,"dg":0.278,"dr":0.2777},
{"x":329,"bb":0.31,"db":0.2776},
{"x":330,"bb":0.25,"db":0.2777,"bo":0.28,"bg":0.28,"br":0.27,"do":0.2781,"dg":0.2768,"dr":0.2772},
{"x":331,"bb":0.275,"db":0.2775},
{"x":332,"bb":0.30,"db":0.2778,"bo":0.27,"bg":0.277,"br":0.287,"do":0.2777,"dg":0.2779,"dr":0.2783},
{"x":333,"bb":0.26,"db":0.2776},
{"x":334,"bb":0.29,"db":0.2779,"bo":0.285,"bg":0.286,"br":0.274,"do":0.2774,"dg":0.2775,"dr":0.2769},
{"x":335,"bb":0.28,"db":0.2774},
{"x":336,"bb":0.255,"db":0.2777,"bo":0.265,"bg":0.279,"br":0.28,"do":0.2785,"dg":0.2782,"dr":0.2786},
{"x":337,"bb":0.31,"db":0.2775},
{"x":338,"bb":0.265,"db":0.2778,"bo":0.28,"bg":0.276,"br":0.268,"do":0.2778,"dg":0.2771,"dr":0.2775},
{"x":339,"bb":0.285,"db":0.2776},
{"x":340,"bb":0.30,"db":0.2779,"bo":0.275,"bg":0.282,"br":0.284,"do":0.2771,"dg":0.2777,"dr":0.2771},
{"x":341,"bb":0.25,"db":0.2774},
{"x":342,"bb":0.27,"db":0.2777,"bo":0.27,"bg":0.278,"br":0.272,"do":0.278,"dg":0.2785,"dr":0.2784},
{"x":343,"bb":0.29,"db":0.2775},
{"x":344,"bb":0.26,"db":0.2778,"bo":0.285,"bg":0.285,"br":0.278,"do":0.2776,"dg":0.2772,"dr":0.2776},
{"x":345,"bb":0.34,"db":0.279},
{"x":346,"bb":0.20,"db":0.2755,"bo":0.265,"bg":0.276,"br":0.266,"do":0.2783,"dg":0.2779,"dr":0.2769},
{"x":347,"bb":0.275,"db":0.2774},
{"x":348,"bb":0.30,"db":0.2777,"bo":0.28,"bg":0.28,"br":0.285,"do":0.2773,"dg":0.2768,"dr":0.2782},
{"x":349,"bb":0.26,"db":0.2775},
{"x":350,"bb":0.28,"db":0.2778,"bo":0.29,"bg":0.283,"br":0.275,"do":0.2779,"dg":0.2783,"dr":0.2774},
{"x":351,"bb":0.275,"db":0.2776},
{"x":352,"bb":0.295,"db":0.2779,"bo":0.27,"bg":0.277,"br":0.27,"do":0.2788,"dg":0.2776,"dr":0.2787},
{"x":353,"bb":0.255,"db":0.2774},
{"x":354,"bb":0.27,"db":0.2777,"bo":0.275,"bg":0.29,"br":0.282,"do":0.2774,"dg":0.2771,"dr":0.277},
{"x":355,"bb":0.29,"db":0.2775},
{"x":356,"bb":0.26,"db":0.2778,"bo":0.27,"bg":0.279,"br":0.268,"do":0.2781,"dg":0.2788,"dr":0.2779},
{"x":357,"bb":0.285,"db":0.2776},
{"x":358,"bb":0.275,"db":0.2779,"bo":0.255,"bg":0.282,"br":0.276,"do":0.2777,"dg":0.2775,"dr":0.2783},
{"x":359,"bb":0.10,"db":0.2455,"bo":0.335}
]
},
"concat": [
{
"width": 475, "height": 236,
"title": {"text": "Slope", "fontSize": 22, "fontWeight": "normal", "offset": -16, "baseline": "alphabetic", "frame": "group"},
"layer": [
{"data": {"name": "slope"}, "mark": {"type": "line", "strokeWidth": 1.5, "clip": true, "invalid": "filter"},
 "encoding": {
  "x": {"field": "x", "type": "quantitative", "title": null, "scale": {"domain": [0, 90], "nice": false, "zero": false}, "axis": {"values": [0,10,20,30,40,50,60,70,80,90], "labelOverlap": false}},
  "y": {"field": "a1", "type": "quantitative", "title": "Probability density", "scale": {"domain": [0, 12.6], "nice": false, "clamp": true}, "axis": {"values": [0,2,4,6,8,10,12], "labelOverlap": false, "tickCount": 7}},
  "color": {"datum": "QR: 0.988 (SD=0)", "scale": {"domain": ["QR: 0.988 (SD=0)", "QR: 0.903 (SD=0.0001)", "QR: 0.512 (SD=0.001)", "QR: 0.0968 (SD=0.01)"], "range": ["#1f77b4", "#ff7f0e", "#2ca02c", "#d62728"]}}
 }},
{"data": {"name": "slope"}, "mark": {"type": "line", "strokeWidth": 1.5, "clip": true, "invalid": "filter"},
 "encoding": {"x": {"field": "x", "type": "quantitative", "title": null, "axis": {"values": [0,10,20,30,40,50,60,70,80,90], "labelOverlap": false}}, "y": {"field": "a2", "type": "quantitative", "title": "Probability density", "axis": {"values": [0,2,4,6,8,10,12], "labelOverlap": false, "tickCount": 7}}, "color": {"datum": "QR: 0.903 (SD=0.0001)"}}},
{"data": {"name": "slope"}, "mark": {"type": "line", "strokeWidth": 1.5, "clip": true, "invalid": "filter"},
 "encoding": {"x": {"field": "x", "type": "quantitative", "title": null, "axis": {"values": [0,10,20,30,40,50,60,70,80,90], "labelOverlap": false}}, "y": {"field": "a3", "type": "quantitative", "title": "Probability density", "axis": {"values": [0,2,4,6,8,10,12], "labelOverlap": false, "tickCount": 7}}, "color": {"datum": "QR: 0.512 (SD=0.001)"}}},
{"data": {"name": "slope"}, "mark": {"type": "line", "strokeWidth": 1.5, "clip": true, "invalid": "filter"},
 "encoding": {"x": {"field": "x", "type": "quantitative", "title": null, "axis": {"values": [0,10,20,30,40,50,60,70,80,90], "labelOverlap": false}}, "y": {"field": "a4", "type": "quantitative", "title": "Probability density", "axis": {"values": [0,2,4,6,8,10,12], "labelOverlap": false, "tickCount": 7}}, "color": {"datum": "QR: 0.0968 (SD=0.01)"}}},
{"data": {"values": [{}]}, "mark": {"type": "text", "text": "(a)", "fontSize": 26, "fontWeight": "bold", "align": "left", "baseline": "middle", "color": "black"},
 "encoding": {"x": {"datum": 2.1}, "y": {"datum": 11.7}}}
]
},
{
"width": 475, "height": 236,
"title": {"text": "Aspect", "fontSize": 22, "fontWeight": "normal", "offset": -16, "baseline": "alphabetic", "frame": "group"},
"layer": [
{"data": {"name": "asp"}, "mark": {"type": "line", "strokeWidth": 1.5, "clip": true, "invalid": "filter"},
 "encoding": {
  "x": {"field": "x", "type": "quantitative", "title": null, "scale": {"domain": [0, 360], "nice": false, "zero": false}, "axis": {"values": [0,50,100,150,200,250,300,350], "labelOverlap": false}},
  "y": {"field": "bb", "type": "quantitative", "title": null, "scale": {"domain": [-0.034, 0.697], "nice": false, "zero": false, "clamp": true}, "axis": {"values": [0,0.1,0.2,0.3,0.4,0.5,0.6], "format": ".1f", "labelOverlap": false, "tickCount": 7}},
  "color": {"datum": "QR: 0.998 (SD=0)", "scale": {"domain": ["QR: 0.998 (SD=0)", "QR: 0.943 (SD=0.0001)", "QR: 0.639 (SD=0.001)", "QR: 0.157 (SD=0.01)"], "range": ["#1f77b4", "#ff7f0e", "#2ca02c", "#d62728"]}}
 }},
{"data": {"name": "asp"}, "mark": {"type": "line", "strokeWidth": 1.5, "clip": true, "invalid": "filter"},
 "encoding": {"x": {"field": "x", "type": "quantitative", "title": null, "axis": {"values": [0,50,100,150,200,250,300,350], "labelOverlap": false}}, "y": {"field": "bo", "type": "quantitative", "title": null, "axis": {"values": [0,0.1,0.2,0.3,0.4,0.5,0.6], "format": ".1f", "labelOverlap": false, "tickCount": 7}}, "color": {"datum": "QR: 0.943 (SD=0.0001)"}}},
{"data": {"name": "asp"}, "mark": {"type": "line", "strokeWidth": 1.5, "clip": true, "invalid": "filter"},
 "encoding": {"x": {"field": "x", "type": "quantitative", "title": null, "axis": {"values": [0,50,100,150,200,250,300,350], "labelOverlap": false}}, "y": {"field": "bg", "type": "quantitative", "title": null, "axis": {"values": [0,0.1,0.2,0.3,0.4,0.5,0.6], "format": ".1f", "labelOverlap": false, "tickCount": 7}}, "color": {"datum": "QR: 0.639 (SD=0.001)"}}},
{"data": {"name": "asp"}, "mark": {"type": "line", "strokeWidth": 1.5, "clip": true, "invalid": "filter"},
 "encoding": {"x": {"field": "x", "type": "quantitative", "title": null, "axis": {"values": [0,50,100,150,200,250,300,350], "labelOverlap": false}}, "y": {"field": "br", "type": "quantitative", "title": null, "axis": {"values": [0,0.1,0.2,0.3,0.4,0.5,0.6], "format": ".1f", "labelOverlap": false, "tickCount": 7}}, "color": {"datum": "QR: 0.157 (SD=0.01)"}}},
{"data": {"values": [{}]}, "mark": {"type": "text", "text": "(b)", "fontSize": 26, "fontWeight": "bold", "align": "left", "baseline": "middle", "color": "black"},
 "encoding": {"x": {"datum": 8.3}, "y": {"datum": 0.6458}}}
]
},
{
"width": 475, "height": 236,
"layer": [
{"data": {"name": "slope"}, "mark": {"type": "line", "strokeWidth": 1.5, "clip": true, "invalid": "filter"},
 "encoding": {
  "x": {"field": "x", "type": "quantitative", "title": "Slope (degree)", "scale": {"domain": [0, 90], "nice": false, "zero": false}, "axis": {"values": [0,10,20,30,40,50,60,70,80,90], "labelOverlap": false}},
  "y": {"field": "c1", "type": "quantitative", "title": "Probability density", "scale": {"domain": [0, 12.95], "nice": false, "clamp": true}, "axis": {"values": [0,2,4,6,8,10,12], "labelOverlap": false, "tickCount": 7}},
  "color": {"datum": "QR: 1 (SD=0)", "scale": {"domain": ["QR: 1 (SD=0)", "QR: 0.52 (SD=0.0001)", "QR: 0.0988 (SD=0.001)", "QR: 0.0109 (SD=0.01)"], "range": ["#1f77b4", "#ff7f0e", "#2ca02c", "#d62728"]}}
 }},
{"data": {"name": "slope"}, "mark": {"type": "line", "strokeWidth": 1.5, "clip": true, "invalid": "filter"},
 "encoding": {"x": {"field": "x", "type": "quantitative", "title": "Slope (degree)", "axis": {"values": [0,10,20,30,40,50,60,70,80,90], "labelOverlap": false}}, "y": {"field": "c2", "type": "quantitative", "title": "Probability density", "axis": {"values": [0,2,4,6,8,10,12], "labelOverlap": false, "tickCount": 7}}, "color": {"datum": "QR: 0.52 (SD=0.0001)"}}},
{"data": {"name": "slope"}, "mark": {"type": "line", "strokeWidth": 1.5, "clip": true, "invalid": "filter"},
 "encoding": {"x": {"field": "x", "type": "quantitative", "title": "Slope (degree)", "axis": {"values": [0,10,20,30,40,50,60,70,80,90], "labelOverlap": false}}, "y": {"field": "c3", "type": "quantitative", "title": "Probability density", "axis": {"values": [0,2,4,6,8,10,12], "labelOverlap": false, "tickCount": 7}}, "color": {"datum": "QR: 0.0988 (SD=0.001)"}}},
{"data": {"name": "slope"}, "mark": {"type": "line", "strokeWidth": 1.5, "clip": true, "invalid": "filter"},
 "encoding": {"x": {"field": "x", "type": "quantitative", "title": "Slope (degree)", "axis": {"values": [0,10,20,30,40,50,60,70,80,90], "labelOverlap": false}}, "y": {"field": "c4", "type": "quantitative", "title": "Probability density", "axis": {"values": [0,2,4,6,8,10,12], "labelOverlap": false, "tickCount": 7}}, "color": {"datum": "QR: 0.0109 (SD=0.01)"}}},
{"data": {"values": [{}]}, "mark": {"type": "text", "text": "(c)", "fontSize": 26, "fontWeight": "bold", "align": "left", "baseline": "middle", "color": "black"},
 "encoding": {"x": {"datum": 2.1}, "y": {"datum": 11.92}}}
]
},
{
"width": 475, "height": 236,
"layer": [
{"data": {"name": "asp"}, "mark": {"type": "line", "strokeWidth": 1.5, "clip": true, "invalid": "filter"},
 "encoding": {
  "x": {"field": "x", "type": "quantitative", "title": "Aspect (degree)", "scale": {"domain": [0, 360], "nice": false, "zero": false}, "axis": {"values": [0,50,100,150,200,250,300,350], "labelOverlap": false}},
  "y": {"field": "db", "type": "quantitative", "title": null, "scale": {"domain": [0.2425, 0.3154], "nice": false, "zero": false, "clamp": true}, "axis": {"values": [0.25,0.26,0.27,0.28,0.29,0.30,0.31], "format": ".2f", "labelOverlap": false, "tickCount": 7}},
  "color": {"datum": "QR: 1 (SD=0)", "scale": {"domain": ["QR: 1 (SD=0)", "QR: 0.642 (SD=0.0001)", "QR: 0.159 (SD=0.001)", "QR: 0.0187 (SD=0.01)"], "range": ["#1f77b4", "#ff7f0e", "#2ca02c", "#d62728"]}}
 }},
{"data": {"name": "asp"}, "mark": {"type": "line", "strokeWidth": 1.5, "clip": true, "invalid": "filter"},
 "encoding": {"x": {"field": "x", "type": "quantitative", "title": "Aspect (degree)", "axis": {"values": [0,50,100,150,200,250,300,350], "labelOverlap": false}}, "y": {"field": "do", "type": "quantitative", "title": null, "axis": {"values": [0.25,0.26,0.27,0.28,0.29,0.30,0.31], "format": ".2f", "labelOverlap": false, "tickCount": 7}}, "color": {"datum": "QR: 0.642 (SD=0.0001)"}}},
{"data": {"name": "asp"}, "mark": {"type": "line", "strokeWidth": 1.5, "clip": true, "invalid": "filter"},
 "encoding": {"x": {"field": "x", "type": "quantitative", "title": "Aspect (degree)", "axis": {"values": [0,50,100,150,200,250,300,350], "labelOverlap": false}}, "y": {"field": "dg", "type": "quantitative", "title": null, "axis": {"values": [0.25,0.26,0.27,0.28,0.29,0.30,0.31], "format": ".2f", "labelOverlap": false, "tickCount": 7}}, "color": {"datum": "QR: 0.159 (SD=0.001)"}}},
{"data": {"name": "asp"}, "mark": {"type": "line", "strokeWidth": 1.5, "clip": true, "invalid": "filter"},
 "encoding": {"x": {"field": "x", "type": "quantitative", "title": "Aspect (degree)", "axis": {"values": [0,50,100,150,200,250,300,350], "labelOverlap": false}}, "y": {"field": "dr", "type": "quantitative", "title": null, "axis": {"values": [0.25,0.26,0.27,0.28,0.29,0.30,0.31], "format": ".2f", "labelOverlap": false, "tickCount": 7}}, "color": {"datum": "QR: 0.0187 (SD=0.01)"}}},
{"data": {"values": [{}]}, "mark": {"type": "text", "text": "(d)", "fontSize": 26, "fontWeight": "bold", "align": "left", "baseline": "middle", "color": "black"},
 "encoding": {"x": {"datum": 8.3}, "y": {"datum": 0.30954}}}
]
}
],
"config": {
 "font": "DejaVu Sans",
 "view": {"stroke": "#000000", "strokeWidth": 1},
 "axis": {"labelFontSize": 14.5, "labelColor": "#000000", "titleFontSize": 17, "titleFontWeight": "normal", "titleColor": "#000000", "tickColor": "#000000", "tickSize": 3.5, "domainColor": "#000000", "labelPadding": 2.5, "gridColor": "#d6d6d6", "gridWidth": 1, "labelFlush": false, "labelOverlap": false},
 "axisY": {"titleFontSize": 22, "titlePadding": 5, "labelOverlap": false},
 "axisLeft": {"labelOverlap": false},
 "axisQuantitative": {"labelOverlap": false},
 "axisX": {"titlePadding": 5},
 "legend": {"title": null, "orient": "none", "legendX": 231.5, "legendY": 3.8, "padding": 8, "symbolType": "M-3,0H3", "symbolSize": 110, "symbolStrokeWidth": 1.5, "labelFontSize": 15, "labelColor": "#000000", "labelOffset": 22, "rowPadding": 6, "fillColor": "rgba(255,255,255,0.8)", "cornerRadius": 3, "labelLimit": 400}
}
}
